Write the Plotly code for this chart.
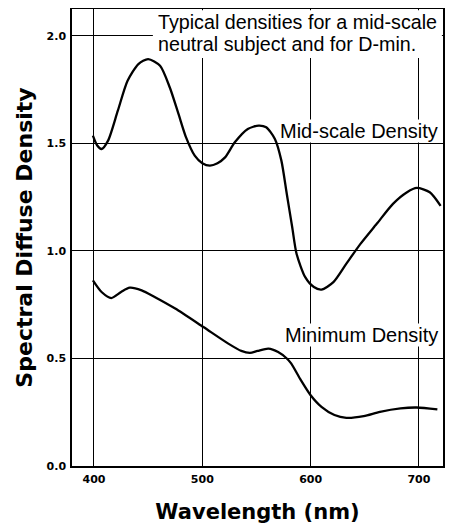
import plotly.graph_objects as go

# Mid-scale density curve (wavelength nm, density)
x_mid = [399, 403, 407, 413, 422, 431, 441, 450, 461, 470, 478, 485, 493, 500, 507, 514, 521, 530, 542, 552,
         559, 567, 573, 578, 583, 587, 595, 603, 610, 621, 633, 646, 661, 676, 689, 698, 710, 720]
y_mid = [1.536, 1.49, 1.474, 1.513, 1.652, 1.791, 1.869, 1.892, 1.861, 1.760, 1.637, 1.528, 1.443, 1.408, 1.397, 1.408, 1.435, 1.505, 1.567, 1.583,
         1.575, 1.521, 1.420, 1.265, 1.110, 0.987, 0.878, 0.832, 0.820, 0.855, 0.941, 1.033, 1.126, 1.219, 1.273, 1.293, 1.273, 1.21]

# Minimum density curve
x_min = [399, 407, 416, 425, 433, 444, 456, 475, 501, 524, 536, 544, 551, 561, 570, 578, 582, 591, 600, 610,
         622, 633, 649, 664, 683, 698, 717]
y_min = [0.863, 0.809, 0.781, 0.809, 0.829, 0.817, 0.786, 0.732, 0.646, 0.569, 0.535, 0.526, 0.535, 0.546, 0.530, 0.50, 0.477, 0.399, 0.329, 0.275,
         0.237, 0.224, 0.232, 0.252, 0.268, 0.272, 0.263]

x_ticks = [400, 500, 600, 700]
y_ticks = [0.0, 0.5, 1.0, 1.5, 2.0]
y_ticklabels = ["0.0", "0.5", "1.0", "1.5", "2.0"]

BOLD = "DejaVu Sans, sans-serif"
REG = "Liberation Sans, Arial, Helvetica, sans-serif"

fig = go.Figure()
for xs, ys in ((x_mid, y_mid), (x_min, y_min)):
    fig.add_trace(go.Scatter(x=xs, y=ys, mode="lines",
                             line=dict(color="black", width=2.3, shape="spline", smoothing=0.7),
                             showlegend=False, hoverinfo="skip"))

# the page adds an 8px body margin, so the figure is sized to fit the window
fig.update_layout(
    width=445, height=516,
    margin=dict(l=64, r=10, t=1, b=58),
    paper_bgcolor="white", plot_bgcolor="white",
    font=dict(family=REG, color="black"),
    xaxis=dict(range=[379.7, 722.2], tickvals=x_ticks, ticktext=[str(v) for v in x_ticks],
               showgrid=True, gridcolor="black", gridwidth=1,
               showline=True, linecolor="black", linewidth=1.5, mirror=True,
               ticks="outside", ticklen=2, tickcolor="white", zeroline=False, automargin=False,
               tickfont=dict(size=11, weight="bold", family=BOLD),
               title=dict(text="Wavelength (nm)", font=dict(size=21, weight="bold", family=BOLD),
                          standoff=20)),
    yaxis=dict(range=[0, 2.125], tickvals=y_ticks, ticktext=y_ticklabels,
               showgrid=True, gridcolor="black", gridwidth=1,
               showline=True, linecolor="black", linewidth=1.5, mirror=True,
               ticks="outside", ticklen=2, tickcolor="white", zeroline=False, automargin=False,
               tickfont=dict(size=11, weight="bold", family=BOLD),
               title=dict(text="Spectral Diffuse Density", font=dict(size=22, weight="bold", family=BOLD),
                          standoff=8)),
)

# White box behind the caption (hides grid lines there)
fig.add_shape(type="rect", xref="paper", yref="paper", x0=0.218, x1=0.997, y0=0.893, y1=0.997,
              fillcolor="white", line=dict(width=0), layer="above")

fig.add_annotation(xref="paper", yref="paper", x=0.228, y=0.9716, xanchor="left", yanchor="middle",
                   text="Typical densities for a mid-scale", showarrow=False, borderpad=0,
                   font=dict(size=19.7, family=REG, color="black"))
fig.add_annotation(xref="paper", yref="paper", x=0.228, y=0.9245, xanchor="left", yanchor="middle",
                   text="neutral subject and for D-min.", showarrow=False, borderpad=0,
                   font=dict(size=19.7, family=REG, color="black"))
fig.add_annotation(xref="paper", yref="y", x=1, y=1.56, xanchor="right", yanchor="middle",
                   text="Mid-scale Density", showarrow=False, bgcolor="white", borderpad=0,
                   xshift=-4,
                   font=dict(size=20, family=REG, color="black"))
fig.add_annotation(xref="paper", yref="y", x=1, y=0.609, xanchor="right", yanchor="middle",
                   text="Minimum Density", showarrow=False, bgcolor="white", borderpad=0,
                   xshift=-4,
                   font=dict(size=20, family=REG, color="black"))

fig.write_html("out.html")
